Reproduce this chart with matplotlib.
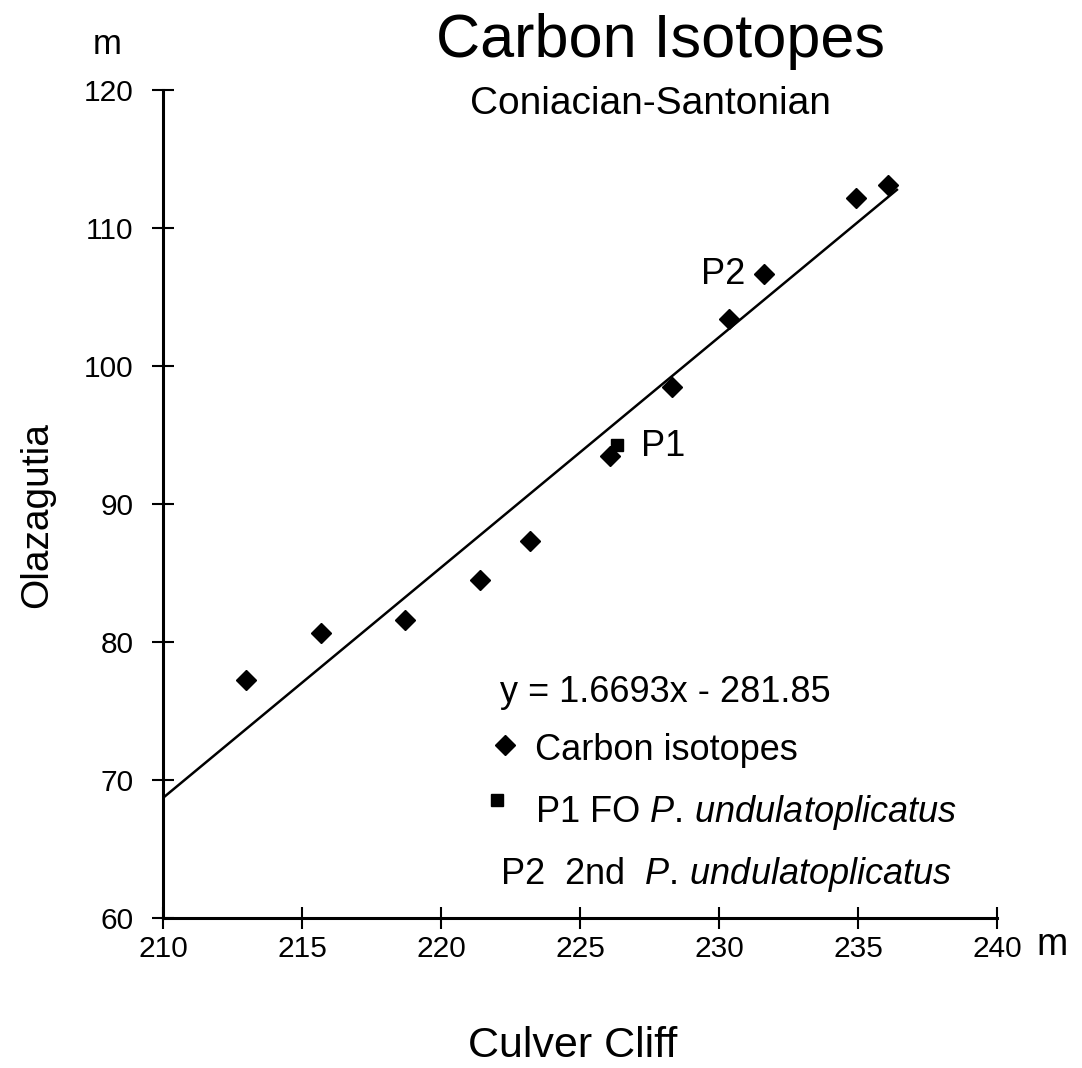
import matplotlib
matplotlib.use("Agg")
import matplotlib.pyplot as plt

plt.rcParams['font.family'] = ['Liberation Sans', 'DejaVu Sans']
plt.rcParams['mathtext.fontset'] = 'custom'
plt.rcParams['mathtext.it'] = 'Liberation Sans:italic'
plt.rcParams['mathtext.rm'] = 'Liberation Sans'

# Carbon isotope tie points (Culver Cliff m, Olazagutia m)
culver = [212.97, 215.67, 218.72, 221.39, 223.19, 226.08, 228.30, 230.37, 231.62, 234.93, 236.07]
olaz = [77.22, 80.66, 81.57, 84.50, 87.29, 93.48, 98.48, 103.40, 106.66, 112.15, 113.12]
# P1: FO P. undulatoplicatus
p1_x = [226.32]
p1_y = [94.27]
# regression line y = slope*x + intercept
slope = 1.6693
intercept = -281.85
line_x = [210.0, 236.4]
xticks = [210, 215, 220, 225, 230, 235, 240]
yticks = [60, 70, 80, 90, 100, 110, 120]

fig = plt.figure(figsize=(10.82, 10.68), dpi=100)
ax = fig.add_axes([0.1506, 0.1404, 0.9214 - 0.1506, 0.9157 - 0.1404])

line_y = [slope * v + intercept for v in line_x]
ax.plot(line_x, line_y, color='black', lw=1.8, zorder=2)
ax.plot(culver, olaz, linestyle='none', marker='D', ms=10.5, color='black', zorder=3)
ax.plot(p1_x, p1_y, linestyle='none', marker='s', ms=9, color='black', zorder=4)

ax.set_xlim(210, 240)
ax.set_ylim(60, 120)
ax.set_xticks(xticks)
ax.set_yticks(yticks)
ax.set_xticklabels([str(t) for t in xticks])
ax.set_yticklabels([str(t) for t in yticks])
for s in ['top', 'right']:
    ax.spines[s].set_visible(False)
for s in ['left', 'bottom']:
    ax.spines[s].set_linewidth(2.2)
    ax.spines[s].set_clip_on(False)
ax.tick_params(axis='both', direction='inout', length=16.5, width=1.5, labelsize=21.5)
ax.tick_params(axis='y', pad=13)
ax.tick_params(axis='x', pad=4)
for lab in ax.get_xticklabels() + ax.get_yticklabels():
    lab.set_clip_on(False)

def fx(px):
    return px / 1082

def fy(py):
    return 1 - py / 1068

# labels
fig.text(fx(660), fy(42), 'Carbon Isotopes', ha='center', va='center', fontsize=44)
fig.text(fx(650), fy(104), 'Coniacian-Santonian', ha='center', va='center', fontsize=28)
fig.text(fx(107), fy(45), 'm', ha='center', va='center', fontsize=25)
fig.text(fx(1052), fy(945), 'm', ha='center', va='center', fontsize=27)
fig.text(fx(573), fy(1046), 'Culver Cliff', ha='center', va='center', fontsize=31)
fig.text(fx(37), fy(515), 'Olazagutia', ha='center', va='center', fontsize=28, rotation=90)

ax.annotate('P1', xy=(p1_x[0], p1_y[0]), xytext=(641, 1068 - 447), textcoords='figure pixels',
            ha='left', va='center', fontsize=26)
fig.text(fx(745), fy(275), 'P2', ha='right', va='center', fontsize=26)

# legend block
fig.text(fx(500), fy(693), 'y = 1.6693x - 281.85', ha='left', va='center', fontsize=26)
ax.plot([fx(505)], [fy(745)], marker='D', ms=10, color='black', transform=fig.transFigure,
        clip_on=False, linestyle='none')
fig.text(fx(535), fy(750), 'Carbon isotopes', ha='left', va='center', fontsize=26)
ax.plot([fx(497)], [fy(800)], marker='s', ms=8.5, color='black', transform=fig.transFigure,
        clip_on=False, linestyle='none')
fig.text(fx(535), fy(812), r'P1 FO $\mathit{P.\,undulatoplicatus}$', ha='left', va='center', fontsize=26)
fig.text(fx(500), fy(874), r'P2  2nd  $\mathit{P.\,undulatoplicatus}$', ha='left', va='center', fontsize=26)

fig.savefig('out.png', dpi=100, facecolor='white')
